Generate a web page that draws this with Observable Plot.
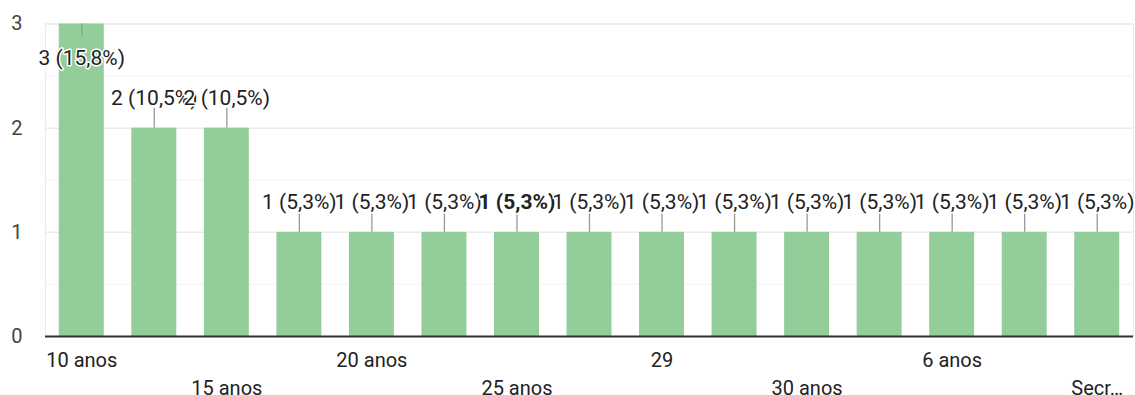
<!DOCTYPE html>
<html>
<head>
<meta charset="utf-8">
<script src="https://cdn.jsdelivr.net/npm/d3@7"></script>
<script src="https://cdn.jsdelivr.net/npm/@observablehq/plot@0.6"></script>
<style>
  html, body { margin: 0; padding: 0; background: #fff; }
  #chart svg { display: block; }
</style>
</head>
<body>
<div id="chart"></div>
<script>
// Category labels (only every second one is visible in the reference; hidden ones left blank)
const categories = ["10 anos", "", "15 anos", "", "20 anos", "", "25 anos", "", "29", "", "30 anos", "", "6 anos", "", "Secr…"];
// Response counts per category
const counts = [3, 2, 2, 1, 1, 1, 1, 1, 1, 1, 1, 1, 1, 1, 1];
// Y tick values
const yTicks = [0, 1, 2, 3];
const yMinorTicks = [0.5, 1.5, 2.5];
// X tick rows (alternating label rows)
const xTicksRow1 = [0, 4, 8, 12];
const xTicksRow2 = [2, 6, 10, 14];
// Highlighted (bold) label index
const highlighted = 6;

const total = d3.sum(counts);
const maxCount = d3.max(counts);
const data = counts.map((v, i) => ({
  i,
  value: v,
  label: `${v} (${(v / total * 100).toFixed(1).replace(".", ",")}%)`
}));

const FONT = "Roboto, 'Noto Sans', sans-serif";

function labelMark(filter, dy, weight) {
  return Plot.text(data.filter(filter), {
    x: "i", y: "value", text: "label",
    dy, fontSize: 21, fontWeight: weight, fill: "#222",
    stroke: "white", strokeWidth: 3, fontFamily: FONT
  });
}

const chart = Plot.plot({
  width: 1135,
  height: 395,
  marginLeft: 45,
  marginRight: 2,
  marginTop: 23.5,
  marginBottom: 59,
  style: { fontFamily: FONT, background: "#fff", overflow: "visible" },
  x: { type: "band", domain: d3.range(categories.length), paddingInner: 0.38, paddingOuter: 0.19, round: false },
  y: { domain: [0, 3] },
  marks: [
    Plot.gridY(yMinorTicks, { stroke: "#f3f3f3", strokeOpacity: 1, strokeWidth: 1 }),
    Plot.gridY(yTicks, { stroke: "#ebebeb", strokeOpacity: 1, strokeWidth: 1.5 }),
    Plot.frame({ stroke: "#ebebeb", strokeWidth: 1 }),
    Plot.barY(data, { x: "i", y: "value", fill: "#93cd9a" }),
    Plot.ruleY([0], { stroke: "#333", strokeWidth: 2 }),
    // leader lines
    Plot.ruleX(data.filter(d => d.value < maxCount), { x: "i", y1: "value", y2: "value", insetBottom: 20, stroke: "#999", strokeWidth: 1.3 }),
    Plot.ruleX(data.filter(d => d.value === maxCount), { x: "i", y1: "value", y2: "value", insetTop: 13, stroke: "#999", strokeWidth: 1.3 }),
    // value labels
    labelMark(d => d.value === maxCount, 34, "normal"),
    labelMark(d => d.value < maxCount && d.i < highlighted, -30, "normal"),
    labelMark(d => d.i === highlighted, -30, "bold"),
    labelMark(d => d.value < maxCount && d.i > highlighted, -30, "normal"),
    // axes
    Plot.axisY(yTicks, { tickSize: 0, tickPadding: 23, fontSize: 20, fill: "#444", label: null, tickFormat: d3.format("d") }),
    Plot.axisX(xTicksRow1, { tickSize: 0, tickPadding: 16, fontSize: 20, fill: "#222", label: null, tickFormat: i => categories[i] }),
    Plot.axisX(xTicksRow2, { tickSize: 0, tickPadding: 44, fontSize: 20, fill: "#222", label: null, tickFormat: i => categories[i] })
  ]
});

document.getElementById("chart").appendChild(chart);
</script>
</body>
</html>
